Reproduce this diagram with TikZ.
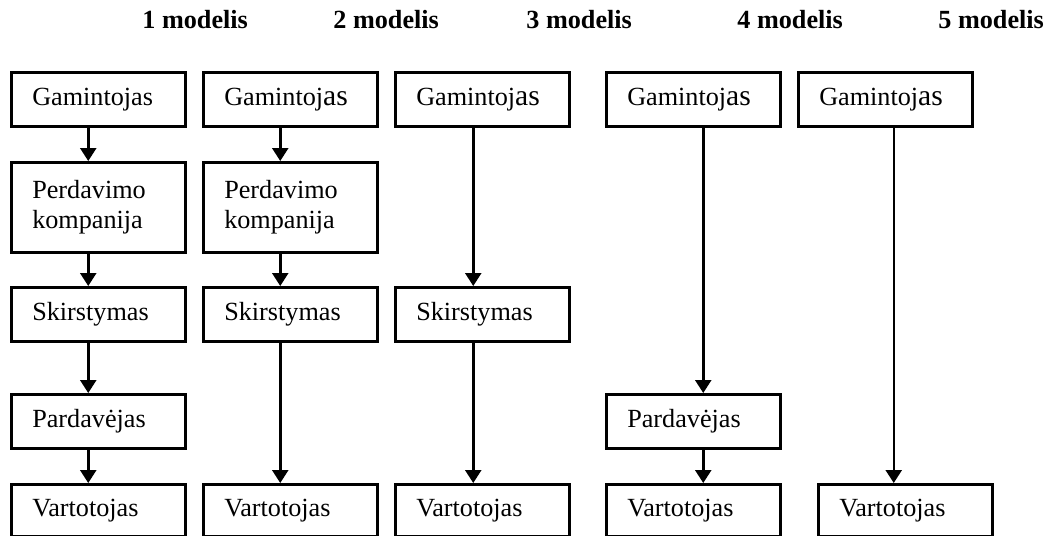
\documentclass[tikz,border=0pt]{standalone}
\usepackage{fontspec}
\setmainfont{Liberation Serif}
\usetikzlibrary{arrows.meta,positioning}

\newcommand{\didas}[1]{{\fontsize{14.8}{15}\selectfont #1}}

\tikzset{
  langas/.style={draw, line width=1.25pt, anchor=north west, text width=66pt, inner xsep=10.5pt, inner ysep=0pt, align=left, minimum height=27pt, font=\fontsize{13.1}{15}\selectfont},
  dvieil/.style={langas, minimum height=45pt},
  galas/.style={langas, minimum height=26pt},
  rod/.style={line width=1.25pt, -{Triangle[width=8pt,length=6.5pt]}},
  antr/.style={anchor=base west, inner sep=0pt, font=\bfseries\fontsize{13.1}{15}\selectfont}
}

\begin{document}
\begin{tikzpicture}[x=0.5pt,y=-0.5pt]
\useasboundingbox (0,0) rectangle (1046,536);
% antrastes
\node[antr] (m1) at (142,28) {1 modelis};
\node[antr] (m2) at (333,28) {2 modelis};
\node[antr] (m3) at (526,28) {3 modelis};
\node[antr] (m4) at (737,28) {4 modelis};
\node[antr] (m5) at (938,28) {5 modelis};
% 1 modelis
\node[langas] (g1) at (10,71) {Gamintojas};
\node[dvieil] (p1) at (10,161) {Perdavimo\\kompanija};
\node[langas] (s1) at (10,286) {Skirstymas};
\node[langas] (pa1) at (10,393) {Pardav\.{e}jas};
\node[galas] (v1) at (10,483) {Vartotojas};
\draw[rod] ([xshift=-5pt]g1.south) -- ([xshift=-5pt]p1.north);
\draw[rod] ([xshift=-5pt]p1.south) -- ([xshift=-5pt]s1.north);
\draw[rod] ([xshift=-5pt]s1.south) -- ([xshift=-5pt]pa1.north);
\draw[rod] ([xshift=-5pt]pa1.south) -- ([xshift=-5pt]v1.north);
% 2 modelis
\node[langas] (g2) at (202,71) {Gamintoj\didas{as}};
\node[dvieil] (p2) at (202,161) {Perdavimo\\kompanija};
\node[langas] (s2) at (202,286) {Skirstymas};
\node[galas] (v2) at (202,483) {Vartotojas};
\draw[rod] ([xshift=-5pt]g2.south) -- ([xshift=-5pt]p2.north);
\draw[rod] ([xshift=-5pt]p2.south) -- ([xshift=-5pt]s2.north);
\draw[rod] ([xshift=-5pt]s2.south) -- ([xshift=-5pt]v2.north);
% 3 modelis
\node[langas] (g3) at (394,71) {Gamintoj\didas{as}};
\node[langas] (s3) at (394,286) {Skirstymas};
\node[galas] (v3) at (394,483) {Vartotojas};
\draw[rod] ([xshift=-4.5pt]g3.south) -- ([xshift=-4.5pt]s3.north);
\draw[rod] ([xshift=-4.5pt]s3.south) -- ([xshift=-4.5pt]v3.north);
% 4 modelis
\node[langas] (g4) at (605,71) {Gamintoj\didas{as}};
\node[langas] (pa4) at (605,393) {Pardav\.{e}jas};
\node[galas] (v4) at (605,483) {Vartotojas};
\draw[rod] ([xshift=5pt]g4.south) -- ([xshift=5pt]pa4.north);
\draw[rod] ([xshift=5pt]pa4.south) -- ([xshift=5pt]v4.north);
% 5 modelis
\node[langas] (g5) at (797,71) {Gamintoj\didas{as}};
\node[galas] (v5) at (817,483) {Vartotojas};
\coordinate (r5) at ([xshift=4.25pt]g5.south);
\draw[rod] (r5) -- (r5 |- v5.north);
\end{tikzpicture}
\end{document}
